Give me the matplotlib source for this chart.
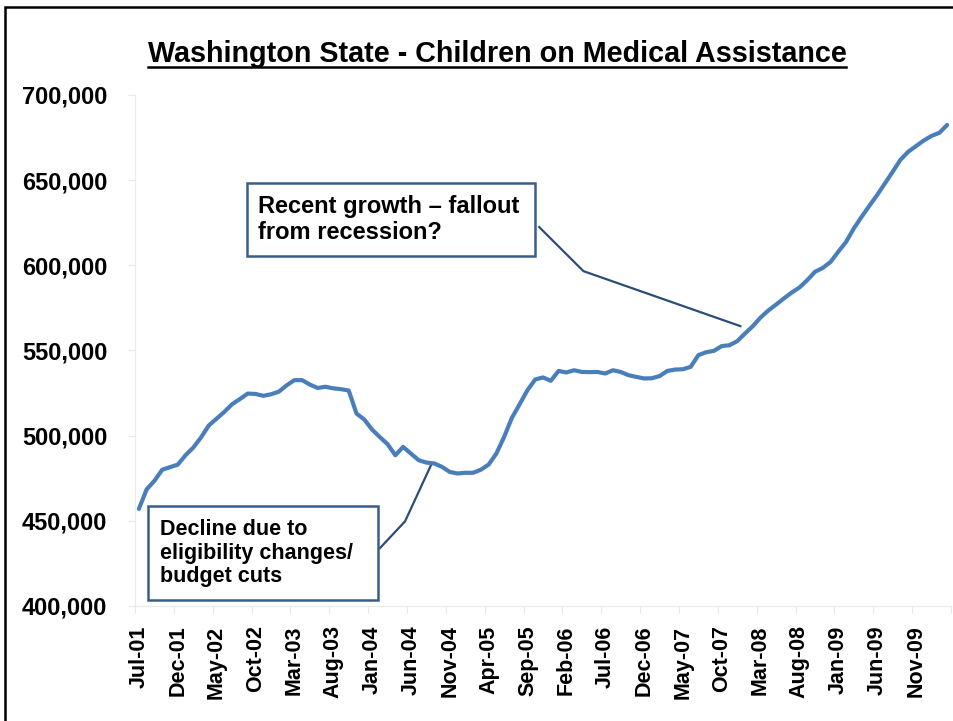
import matplotlib
matplotlib.use("Agg")
import matplotlib.pyplot as plt
from matplotlib.patches import Rectangle
from matplotlib.lines import Line2D
import matplotlib.ticker as mticker

plt.rcParams['font.family'] = ['Liberation Sans', 'DejaVu Sans']
plt.rcParams['font.weight'] = 'bold'

# ---- data ----
months = ["Jan", "Feb", "Mar", "Apr", "May", "Jun", "Jul", "Aug", "Sep", "Oct", "Nov", "Dec"]
start_year, start_month = 2001, 7
values = [
    457000, 468500, 473500, 480000, 481500, 483000, 488500, 493000, 499000, 506000,
    510000, 514000, 518500, 521500, 524700, 524500, 523400, 524300, 525800, 529500,
    532600, 532600, 530000, 528000, 528700, 527800, 527300, 526500, 513000, 509500,
    503600, 499200, 495000, 488500, 493400, 489500, 485600, 484200, 483700, 481700,
    478700, 477800, 478200, 478200, 480000, 483000, 489500, 499300, 510500, 518500,
    526700, 533000, 534200, 532200, 538000, 537100, 538400, 537400, 537300, 537400,
    536500, 538400, 537400, 535500, 534500, 533600, 533700, 535000, 538000, 538800,
    539000, 540400, 547300, 549000, 549800, 552600, 553100, 555500, 560000, 564300,
    569400, 573500, 577000, 580600, 584000, 587000, 591300, 596200, 598500, 602000,
    608000, 613800, 621700, 628500, 635000, 641300, 648100, 655000, 662000, 666700,
    670000, 673300, 676000, 677800, 682400,
]
categories = []
for k in range(len(values)):
    m = (start_month - 1 + k) % 12
    y = start_year + (start_month - 1 + k) // 12
    categories.append(f"{months[m]}-{y % 100:02d}")

title = "Washington State - Children on Medical Assistance"
note_recent = "Recent growth – fallout\nfrom recession?"
note_decline = "Decline due to\neligibility changes/\nbudget cuts"
# leader lines (category index, value)
leader_recent = ([51.5, 57.2, 77.4], [622500, 596600, 564300])
leader_decline = ([31.0, 34.25, 37.7], [433900, 449700, 483800])

W, H = 954, 721
fig = plt.figure(figsize=(W / 100, H / 100), dpi=100)
ax = fig.add_axes([135 / W, 1 - 606 / H, (951 - 135) / W, (606 - 95) / H])

line_color = "#4A7EBB"
box_color = "#385D8A"
lead_color = "#2C4D75"

x = list(range(len(values)))
ax.plot(x, values, color=line_color, lw=3.0, solid_joinstyle='round', solid_capstyle='round', zorder=3)

ax.set_xlim(-0.5, len(values) - 0.5)
ax.set_ylim(400000, 700000)
ax.yaxis.set_major_locator(mticker.MultipleLocator(50000))
ax.yaxis.set_major_formatter(mticker.FuncFormatter(lambda v, p: f"{int(v):,}"))

# x: labels every 5 categories, ticks at category boundaries
lab_idx = list(range(0, len(values), 5))
ax.set_xticks([i - 0.5 for i in range(0, len(values) + 1, 5)])
ax.set_xticklabels([])
ax.set_xticks(lab_idx, minor=True)
ax.set_xticklabels([categories[i] for i in lab_idx], minor=True, rotation=90,
                   fontsize=15.5, fontweight='bold')
ax.tick_params(axis='x', which='minor', length=0, pad=14)
ax.tick_params(axis='x', which='major', length=5, color='#E8E8E8', direction='out')
ax.tick_params(axis='y', length=5, color='#E8E8E8', labelsize=17, pad=15)
for lab in ax.get_yticklabels():
    lab.set_fontweight('bold')

for side in ['top', 'right']:
    ax.spines[side].set_visible(False)
for side in ['left', 'bottom']:
    ax.spines[side].set_color('#EAEAEA')
    ax.spines[side].set_linewidth(0.8)

# leader lines
ax.plot(*leader_recent, color=lead_color, lw=1.6, clip_on=False, zorder=2)
ax.plot(*leader_decline, color=lead_color, lw=1.6, clip_on=False, zorder=2)

# annotation boxes
def box(x0, y0, x1, y1, text, tx, fs):
    fig.patches.append(Rectangle((x0 / W, 1 - y1 / H), (x1 - x0) / W, (y1 - y0) / H,
                                 transform=fig.transFigure, fill=True, facecolor='white',
                                 edgecolor=box_color, lw=1.8, zorder=5))
    fig.text(tx / W, 1 - (y0 + y1) / 2 / H, text, ha='left', va='center',
             fontsize=fs, fontweight='bold', linespacing=1.15, zorder=6)

box(247, 183, 535, 256, note_recent, 258, 17)
box(148, 506, 378, 600, note_decline, 160, 15.5)

# title with underline
t = fig.text(497 / W, 1 - 62 / H, title, ha='center', va='baseline', fontsize=20.7,
             fontweight='bold')
fig.canvas.draw()
bb = t.get_window_extent()
uy = H - 67
fig.add_artist(Line2D([bb.x0 / W, bb.x1 / W], [uy / H, uy / H], transform=fig.transFigure,
                      color='black', lw=1.8))

# outer frame (extends past right/bottom)
fig.patches.append(Rectangle((5.5 / W, -0.05), 1.2, 1 - 7.5 / H + 0.05, transform=fig.transFigure,
                             fill=False, edgecolor='black', lw=1.8))

fig.savefig("out.png", dpi=100)
